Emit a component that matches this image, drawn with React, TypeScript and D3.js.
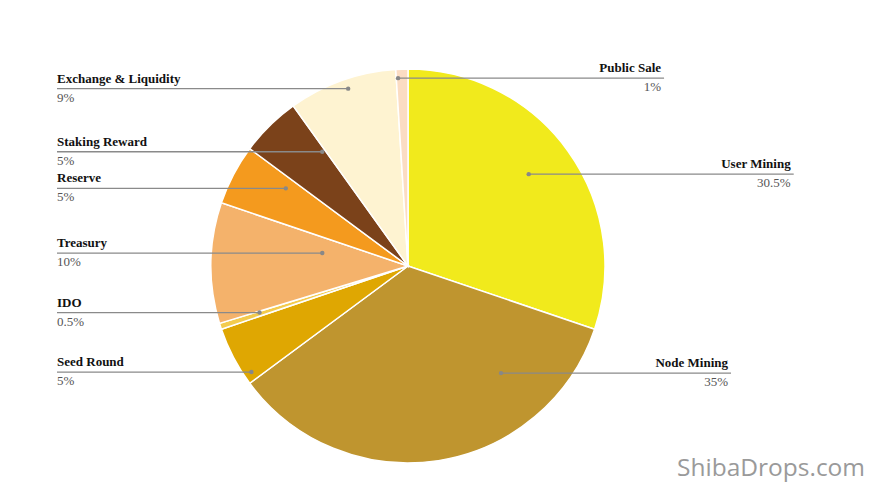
import React from "react";
import * as d3 from "d3";

const categories = [
  "User Mining",
  "Node Mining",
  "Seed Round",
  "IDO",
  "Treasury",
  "Reserve",
  "Staking Reward",
  "Exchange & Liquidity",
  "Public Sale",
];
const values = [30.5, 35, 5, 0.5, 10, 5, 5, 9, 1];
const percentLabels = ["30.5%", "35%", "5%", "0.5%", "10%", "5%", "5%", "9%", "1%"];
const colors = [
  "#F1EA1C",
  "#BF952F",
  "#DFA702",
  "#F3CB4E",
  "#F4B26B",
  "#F49A1E",
  "#7B421A",
  "#FEF3D1",
  "#FBDCC3",
];
// leader anchor inside each slice: fraction of the slice's angle, fraction of radius
const anchorT = [0.485, 0.243, 0.136, 0.73, 0.716, 0.77, 0.93, 0.53, 0.15];
const anchorK = [0.77, 0.72, 0.96, 0.79, 0.44, 0.735, 0.725, 0.95, 0.955];
// right-side label line lengths (0 = left side)
const rightLen = [265, 230, 0, 0, 0, 0, 0, 0, 266];

const W = 875;
const H = 493;
const CX = 408;
const CY = 266;
const R = 197;
const LEFT_X = 57;

export default function App() {
  const pie = d3
    .pie<number>()
    .sort(null)
    .value((d) => d);
  const arcs = pie(values);
  const arc = d3
    .arc<d3.PieArcDatum<number>>()
    .innerRadius(0)
    .outerRadius(R);

  return (
    <svg
      width={W}
      height={H}
      style={{ position: "absolute", left: 0, top: 0, background: "#fff" }}
    >
      <rect x={0} y={0} width={W} height={H} fill="#fff" />
      <g transform={`translate(${CX},${CY})`}>
        {arcs.map((a, i) => (
          <path
            key={i}
            d={arc(a) || ""}
            fill={colors[i]}
            stroke="#fff"
            strokeWidth={1.5}
          />
        ))}
      </g>
      {arcs.map((a, i) => {
        const ang = a.startAngle + (a.endAngle - a.startAngle) * anchorT[i];
        const r = R * anchorK[i];
        const dx = CX + r * Math.sin(ang);
        const dy = CY - r * Math.cos(ang);
        const right = rightLen[i] > 0;
        const x1 = right ? dx : LEFT_X;
        const x2 = right ? dx + rightLen[i] : dx;
        const tx = right ? x2 - 3 : LEFT_X;
        const anchor = right ? "end" : "start";
        return (
          <g key={"l" + i}>
            <line
              x1={x1}
              x2={x2}
              y1={dy}
              y2={dy}
              stroke="#8a8a8a"
              strokeWidth={1.3}
            />
            <circle cx={dx} cy={dy} r={2.2} fill="#888" />
            <text
              x={tx}
              y={dy - 6}
              textAnchor={anchor}
              fontFamily="'Liberation Serif', 'Times New Roman', serif"
              fontWeight="bold"
              fontSize={13}
              fill="#111"
            >
              {categories[i]}
            </text>
            <text
              x={tx}
              y={dy + 13}
              textAnchor={anchor}
              fontFamily="'Liberation Serif', 'Times New Roman', serif"
              fontSize={13}
              fill="#555"
            >
              {percentLabels[i]}
            </text>
          </g>
        );
      })}
      <text
        x={677}
        y={476}
        fontFamily="'Open Sans', 'Noto Sans', sans-serif"
        fontSize={24.5}
        fill="#9a9a9a"
      >
        ShibaDrops.com
      </text>
    </svg>
  );
}
